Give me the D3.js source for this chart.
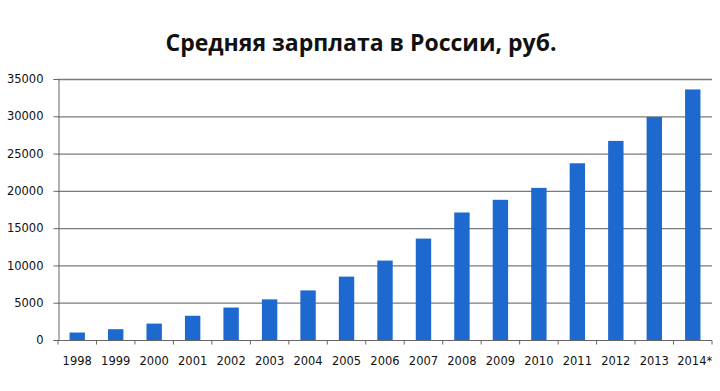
<!DOCTYPE html>
<html><head><meta charset="utf-8">
<script src="https://cdn.jsdelivr.net/npm/d3@7"></script>
<style>body{margin:0;background:#fff}svg{display:block}</style>
</head><body>
<svg id="c" width="720" height="391"></svg>
<script>
const title = "Средняя зарплата в России, руб.";
const years = ["1998","1999","2000","2001","2002","2003","2004","2005","2006","2007","2008","2009","2010","2011","2012","2013","2014*"];
const salaries = [1000,1450,2200,3250,4350,5450,6650,8500,10650,13600,17100,18800,20400,23700,26700,29900,33600];
const yTicks = [0,5000,10000,15000,20000,25000,30000,35000];

const svg = d3.select("#c");
const m = {l:58, r:712, t:79, b:340};
const x = d3.scaleBand().domain(years).range([m.l, m.r]).paddingInner(0.6).paddingOuter(0.3);
const y = d3.scaleLinear().domain([0,35000]).range([m.b, m.t]);

svg.append("text").attr("x",361).attr("y",51).attr("text-anchor","middle")
  .attr("font-family","Open Sans, sans-serif").attr("font-weight","bold").attr("font-size",23)
  .attr("fill","#111").text(title);

// gridlines
svg.append("g").selectAll("line").data(yTicks.filter(d=>d>0)).join("line")
  .attr("x1",m.l).attr("x2",m.r).attr("y1",d=>y(d)+0.5).attr("y2",d=>y(d)+0.5)
  .attr("stroke","#7a7a7a").attr("stroke-width",1.3);

// y axis
const ya = svg.append("g").attr("transform",`translate(${m.l+0.5},0)`)
  .call(d3.axisLeft(y).tickValues(yTicks).tickSize(5).tickPadding(10).tickFormat(d3.format("d")));
ya.select(".domain").attr("stroke","#666");
ya.selectAll(".tick line").attr("stroke","#666");
ya.selectAll("text").attr("font-family","DejaVu Sans, sans-serif").attr("font-size",11.5).attr("fill","#111");

// bars
svg.append("g").selectAll("rect").data(salaries).join("rect")
  .attr("x",(d,i)=>x(years[i])).attr("width",x.bandwidth())
  .attr("y",d=>y(d)).attr("height",d=>y(0)-y(d)).attr("fill","#1e69d0");

// x axis
const xa = svg.append("g").attr("transform",`translate(0,${m.b+0.5})`);
xa.append("line").attr("x1",m.l).attr("x2",m.r).attr("stroke","#666");
const bounds = d3.range(years.length+1).map(i=>m.l + i*(m.r-m.l)/years.length);
xa.selectAll("line.t").data(bounds).join("line").attr("class","t")
  .attr("x1",d=>d).attr("x2",d=>d).attr("y1",0).attr("y2",4).attr("stroke","#666");
xa.selectAll("text").data(years).join("text")
  .attr("x",d=>x(d)+x.bandwidth()/2 + (d.endsWith("*")?2:0)).attr("y",24).attr("text-anchor","middle")
  .attr("font-family","DejaVu Sans, sans-serif").attr("font-size",11.5).attr("fill","#111").text(d=>d);
</script>
</body></html>
